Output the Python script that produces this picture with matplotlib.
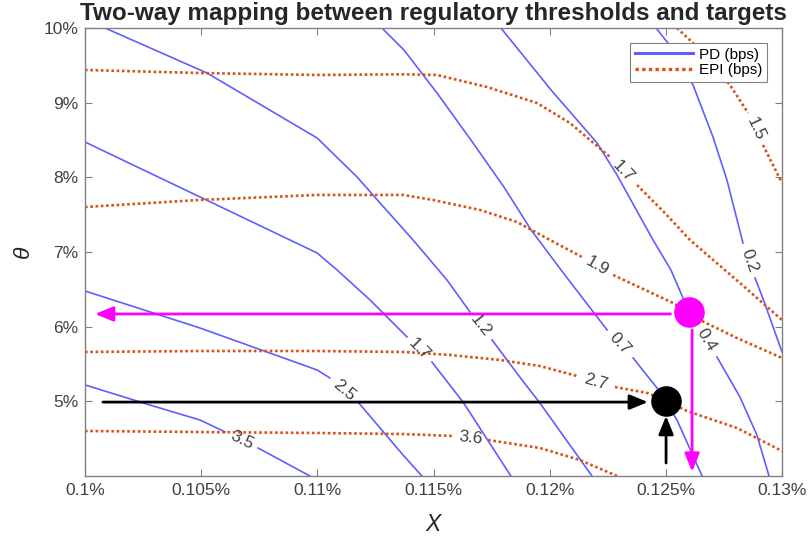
import numpy as np
import matplotlib
matplotlib.use('Agg')
import matplotlib.pyplot as plt

plt.rcParams['font.family'] = ['Liberation Sans', 'DejaVu Sans']

nan = np.nan

# PD contour lines (bps), nan = gap where the inline label sits
pd_levels = ['3.5', '2.5', '1.7', '1.2', '0.7', '0.4', '0.2']
pd_x = [
    [0.1, 0.1028, 0.10495, 0.10603, nan, 0.10745, 0.10968],
    [0.1, 0.10495, 0.10999, 0.11054, nan, 0.11175, 0.11369, 0.1145],
    [0.1, 0.10495, 0.10999, 0.11085, 0.11227, 0.11386, nan, 0.11493, 0.11627, 0.11833],
    [0.10086, 0.10525, 0.10999, 0.11171, 0.1127, 0.11412, 0.11558, 0.11657, nan,
     0.11752, 0.11881, 0.11958, 0.12182],
    [0.11278, 0.11373, 0.11515, 0.11661, 0.11803, 0.1192, 0.12049, 0.12247, nan,
     0.12359, 0.12462, 0.12548, 0.12656],
    [0.1179, 0.12006, 0.12204, 0.1229, 0.12397, 0.12445, 0.12522, 0.12574, 0.1263, nan,
     0.1272, 0.12819, 0.12892, 0.12944],
    [0.12458, 0.12509, 0.12617, 0.12703, 0.12763, 0.12832, nan, 0.12884, 0.12922, 0.13],
]
pd_y = [
    [5.22, 4.95, 4.75, 4.59, nan, 4.375, 4.0],
    [6.478, 5.982, 5.42, 5.313, nan, 4.991, 4.281, 4.0],
    [8.473, 7.737, 6.987, 6.759, 6.357, 5.862, nan, 5.527, 4.991, 4.0],
    [10.0, 9.397, 8.527, 8.005, 7.656, 7.161, 6.625, 6.197, nan, 5.822, 5.286, 4.978, 4.0],
    [10.0, 9.705, 9.13, 8.5, 7.871, 7.295, 6.759, 5.956, nan, 5.581, 5.179, 4.75, 4.0],
    [10.0, 9.17, 8.46, 8.031, 7.429, 7.161, 6.759, 6.384, 6.063, nan, 5.594, 5.058, 4.549, 4.0],
    [10.0, 9.799, 9.237, 8.54, 7.964, 7.121, nan, 6.652, 6.344, 5.661],
]

# EPI contour lines (bps)
epi_levels = ['1.5', '1.7', '1.9', '2.7', '3.6']
epi_x = [
    [0.12548, 0.12617, 0.12776, 0.12854, nan, 0.12918, 0.13],
    [0.1, 0.10495, 0.10999, 0.11369, 0.11515, 0.1173, 0.11945, 0.12087, 0.1226, nan,
     0.12376, 0.12496, 0.12604, 0.12819, 0.13],
    [0.1, 0.10495, 0.10999, 0.11369, 0.11498, 0.117, 0.11859, 0.12001, 0.12139, nan,
     0.12273, 0.12531, 0.12664, 0.12806, 0.13],
    [0.1, 0.10495, 0.10999, 0.11369, 0.11571, 0.11786, 0.11958, 0.12118, nan,
     0.12281, 0.12419, 0.12501, 0.12591, 0.12806, 0.13],
    [0.1, 0.10495, 0.10999, 0.11369, 0.11584, nan, 0.11735, 0.11958, 0.1213, 0.1229],
]
epi_y = [
    [10.0, 9.799, 9.237, 8.862, nan, 8.433, 7.924],
    [9.438, 9.397, 9.371, 9.38, 9.371, 9.21, 8.996, 8.728, 8.272, nan,
     7.897, 7.522, 7.161, 6.585, 6.089],
    [7.603, 7.697, 7.764, 7.764, 7.697, 7.563, 7.402, 7.161, 6.933, nan,
     6.692, 6.317, 6.063, 5.848, 5.581],
    [5.661, 5.674, 5.674, 5.661, 5.621, 5.554, 5.473, 5.339, nan,
     5.192, 5.112, 5.005, 4.871, 4.643, 4.335],
    [4.603, 4.589, 4.576, 4.562, 4.536, nan, 4.482, 4.375, 4.214, 4.0],
]

# mapping points and arrows (start, tip)
pink_pt = (0.126, 6.2)
black_pt = (0.125, 5.0)
pink_h_x = [0.1252, 0.10043]
pink_h_y = [6.17, 6.17]
pink_v_x = [0.12613, 0.12613]
pink_v_y = [5.956, 4.058]
black_h_x = [0.10077, 0.12423]
black_h_y = [4.99, 4.99]
black_v_x = [0.12501, 0.12501]
black_v_y = [4.174, 4.804]

x_ticks = [0.1, 0.105, 0.11, 0.115, 0.12, 0.125, 0.13]
x_ticklabels = ['0.1%', '0.105%', '0.11%', '0.115%', '0.12%', '0.125%', '0.13%']
y_ticks = [5, 6, 7, 8, 9, 10]
y_ticklabels = ['5%', '6%', '7%', '8%', '9%', '10%']

blue = '#5F5FFF'
orange = '#D95319'
magenta = '#FF00FF'
grey_txt = '#404040'

fig = plt.figure(figsize=(8.08, 5.37), dpi=100)
ax = fig.add_axes([85 / 808, 61 / 537, 697 / 808, 448 / 537])
ax.set_xlim(0.1, 0.13)
ax.set_ylim(4, 10)


def draw_lines(xs, ys, levels, **kw):
    handle = None
    for i, (x, y) in enumerate(zip(xs, ys)):
        ln, = ax.plot(x, y, **kw)
        if i == 0:
            handle = ln
        # inline label in the gap
        k = int(np.where(np.isnan(x))[0][0])
        p0 = ax.transData.transform((x[k - 1], y[k - 1]))
        p1 = ax.transData.transform((x[k + 1], y[k + 1]))
        ang = np.degrees(np.arctan2(p1[1] - p0[1], p1[0] - p0[0]))
        if ang > 90:
            ang -= 180
        if ang < -90:
            ang += 180
        mx = (x[k - 1] + x[k + 1]) / 2
        my = (y[k - 1] + y[k + 1]) / 2
        ax.text(mx, my, levels[i], fontsize=12.3, color=grey_txt, rotation=ang,
                rotation_mode='anchor', ha='center', va='center', zorder=3)
    return handle


h_pd = draw_lines(pd_x, pd_y, pd_levels, color=blue, lw=1.2, zorder=2)
h_epi = draw_lines(epi_x, epi_y, epi_levels, color=orange, lw=1.9,
                   linestyle=(0, (1.0, 1.0)), zorder=2)


def arrow(xs, ys, color):
    ax.annotate('', xy=(xs[1], ys[1]), xytext=(xs[0], ys[0]),
                arrowprops=dict(arrowstyle='-|>,head_length=1.1,head_width=0.45',
                                mutation_scale=10, color=color, lw=2,
                                shrinkA=0, shrinkB=0),
                zorder=4)


arrow(pink_h_x, pink_h_y, magenta)
arrow(pink_v_x, pink_v_y, magenta)
arrow(black_h_x, black_h_y, 'black')
arrow(black_v_x, black_v_y, 'black')

ax.plot(*pink_pt, 'o', color=magenta, markersize=21, zorder=5)
ax.plot(*black_pt, 'o', color='black', markersize=21, zorder=5)

ax.set_xticks(x_ticks)
ax.set_xticklabels(x_ticklabels)
ax.set_yticks(y_ticks)
ax.set_yticklabels(y_ticklabels)
ax.tick_params(direction='in', top=True, right=True, length=5, width=0.8,
               color='#808080', labelsize=12.5, labelcolor=grey_txt, pad=5)
for sp in ax.spines.values():
    sp.set_color('#808080')
    sp.set_linewidth(1.0)

ax.set_xlabel('X', fontsize=16.5, style='italic', color='#262626')
ax.set_ylabel('θ', fontsize=16.5, style='italic', color='#262626')
ax.xaxis.set_label_coords(0.5, -0.083)
ax.yaxis.set_label_coords(-0.074, 0.5)

ax.set_title('Two-way mapping between regulatory thresholds and targets',
             fontsize=17.5, fontweight='bold', color='#262626', pad=5.5)

leg = ax.legend([h_pd, h_epi], ['PD (bps)', 'EPI (bps)'], loc='upper right',
                bbox_to_anchor=(0.9785, 0.9665), borderaxespad=0, fontsize=11,
                handlelength=3.8, handletextpad=0.4, labelspacing=0.1,
                borderpad=0.3, fancybox=False, framealpha=1, edgecolor='#808080')
leg.get_frame().set_linewidth(0.8)
leg_lines = leg.get_lines()
leg_lines[0].set_linewidth(2.2)
leg_lines[1].set_linewidth(2.4)

fig.savefig('out.png', dpi=100)
